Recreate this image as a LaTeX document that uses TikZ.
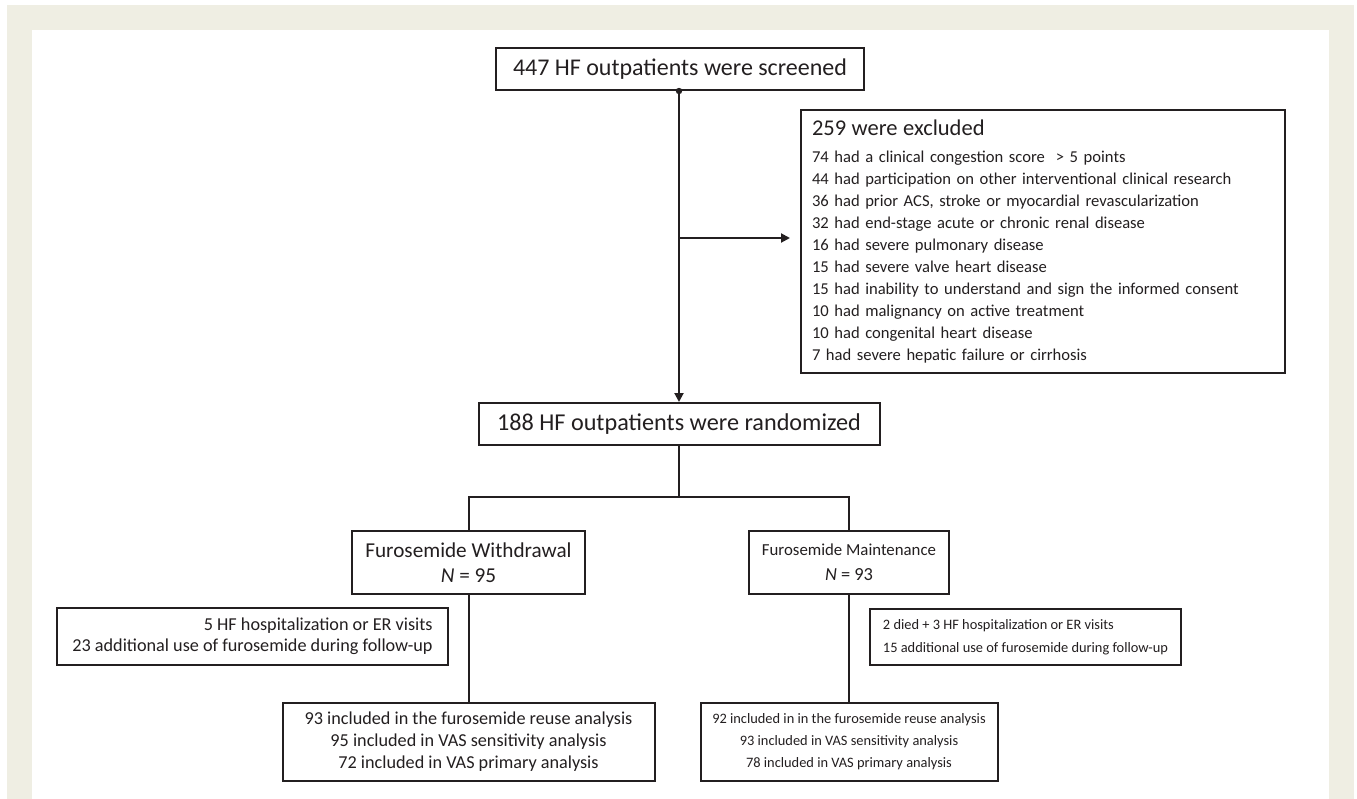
\documentclass[tikz,border=0pt]{standalone}
\usepackage{fontspec}
\setmainfont{Carlito}
\usetikzlibrary{arrows.meta}
\definecolor{paper}{RGB}{239,238,227}
\definecolor{ink}{RGB}{35,31,32}

\begin{document}
\begin{tikzpicture}[
  x=0.5pt, y=-0.5pt,
  box/.style = {draw=ink, line width=1pt, text=ink, inner sep=0pt, align=center},
  line/.style = {ink, line width=1pt},
  >={Triangle[length=4.5pt, width=4.5pt]},
]

  \useasboundingbox (0,0) rectangle (1357,799);
  \fill[paper] (7,5) rectangle (1354,799);
  \fill[white] (32,30) rectangle (1329,799);

  % screening and randomization
  \node[box, minimum width=184pt, minimum height=21pt,
    font=\fontsize{12}{14}\selectfont] (screen) at (680,69)
    {447 HF outpatients were screened};
  \node[box, minimum width=200.5pt, minimum height=21pt,
    font=\fontsize{12.1}{14}\selectfont] (rand) at (679,424)
    {188 HF outpatients were randomized};

  \node[box, align=left, text width=231pt, inner xsep=5.5pt,
    minimum height=131.5pt, font=\fontsize{8.3}{11}\selectfont] (excl) at (1043,241.5)
    {{\fontsize{11.25}{13}\selectfont 259 were excluded}\\[2.5pt]
     74 had a clinical congestion score\ \ > 5 points\\
     44 had participation on other interventional clinical research\\
     36 had prior ACS, stroke or myocardial revascularization\\
     32 had end-stage acute or chronic renal disease\\
     16 had severe pulmonary disease\\
     15 had severe valve heart disease\\
     15 had inability to understand and sign the informed consent\\
     10 had malignancy on active treatment\\
     10 had congenital heart disease\\
     7 had severe hepatic failure or cirrhosis};

  % arms
  \node[box, minimum width=116.5pt, minimum height=31.5pt,
    font=\fontsize{10.6}{12.5}\selectfont] (withdraw) at (468.5,562.5)
    {Furosemide Withdrawal\\\textit{N} = 95};
  \node[box, minimum width=100pt, minimum height=31.5pt,
    font=\fontsize{8.4}{12.5}\selectfont] (maint) at (849,562.5)
    {Furosemide Maintenance\\{\fontsize{9.2}{12.5}\selectfont\textit{N} = 93}};

  \node[box, align=right, minimum width=195.5pt,
    minimum height=28.5pt, font=\fontsize{9.1}{10.5}\selectfont] (wevent) at (252.5,636.5)
    {5 HF hospitalization or ER visits\\
     23 additional use of furosemide during follow-up};
  \node[box, align=left, minimum width=155.5pt,
    minimum height=28pt, font=\fontsize{7.2}{11.3}\selectfont] (mevent) at (1025.5,637)
    {2 died + 3 HF hospitalization or ER visits\\
     15 additional use of furosemide during follow-up};

  \node[box, minimum width=186pt, minimum height=39pt,
    font=\fontsize{9.1}{11}\selectfont] (wres) at (468.5,742)
    {93 included in the furosemide reuse analysis\\
     95 included in VAS sensitivity analysis\\
     72 included in VAS primary analysis};
  \node[box, minimum width=148.5pt, minimum height=39pt,
    font=\fontsize{7.2}{11}\selectfont] (mres) at (849,742)
    {92 included in in the furosemide reuse analysis\\
     93 included in VAS sensitivity analysis\\
     78 included in VAS primary analysis};

  % connectors
  \coordinate (split) at (679,238);
  \coordinate (fork) at (679,497);

  \draw[line, ->] (screen.south -| rand.north) -- (rand.north);
  \fill[ink] (screen.south -| rand.north) circle (1.6pt);
  \draw[line, ->, shorten >=5pt] (split) -- (split -| excl.west);

  \draw[line] (rand.south) -- (fork);
  \draw[line] (withdraw.north) |- (fork) -| (maint.north);
  \draw[line] (withdraw.south) -- (wres.north);
  \draw[line] (maint.south) -- (mres.north);

\end{tikzpicture}
\end{document}
